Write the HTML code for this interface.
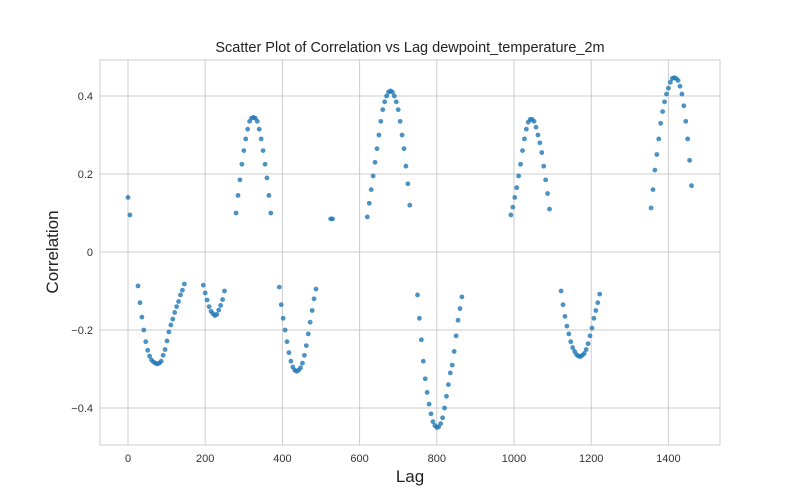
<!DOCTYPE html>
<html><head><meta charset="utf-8"><style>
body{margin:0;background:#fff;}
svg{display:block;font-family:"Liberation Sans","DejaVu Sans",sans-serif;}
</style></head><body>
<svg id="chart" width="800" height="500" viewBox="0 0 800 500">
<rect width="800" height="500" fill="#fff"/>
<text x="410" y="52" text-anchor="middle" font-size="14.5" fill="#222">Scatter Plot of Correlation vs Lag dewpoint_temperature_2m</text>
<g id="grid"></g>
<rect x="100" y="60" width="620" height="385" fill="none" stroke="#ccc" stroke-width="1"/>
<g id="ticks"></g>
<g id="points"></g>
<text x="410" y="482" text-anchor="middle" font-size="17" fill="#222">Lag</text>
<text transform="translate(58,252) rotate(-90)" text-anchor="middle" font-size="17" fill="#222">Correlation</text>
</svg>
<script>
const xTicks=[0,200,400,600,800,1000,1200,1400];
const yTicks=[-0.4,-0.2,0,0.2,0.4];
const yTickLabels=["−0.4","−0.2","0","0.2","0.4"];
const clusterStarts=[0,26,195,280,525,392,620,750,992,1122,1355];
const clusterStep=5;
const v0=[0.14,0.095];
const v1=[-0.087,-0.13,-0.167,-0.2,-0.23,-0.252,-0.267,-0.277,-0.282,-0.285,-0.287,-0.285,-0.28,-0.265,-0.25,-0.228,-0.205,-0.187,-0.172,-0.155,-0.14,-0.127,-0.11,-0.098,-0.082];
const v2=[-0.085,-0.105,-0.123,-0.14,-0.152,-0.158,-0.163,-0.16,-0.149,-0.137,-0.122,-0.1];
const v3=[0.10,0.145,0.185,0.225,0.26,0.29,0.315,0.335,0.343,0.345,0.343,0.335,0.315,0.29,0.26,0.225,0.19,0.145,0.10];
const v4=[0.085,0.085];
const v5=[-0.09,-0.135,-0.17,-0.2,-0.23,-0.258,-0.28,-0.295,-0.303,-0.306,-0.303,-0.297,-0.285,-0.265,-0.24,-0.21,-0.18,-0.15,-0.12,-0.095];
const v6=[0.09,0.125,0.16,0.195,0.23,0.265,0.3,0.335,0.365,0.385,0.4,0.41,0.413,0.41,0.4,0.385,0.365,0.335,0.3,0.265,0.22,0.175,0.12];
const v7=[-0.11,-0.17,-0.225,-0.28,-0.325,-0.36,-0.39,-0.415,-0.435,-0.445,-0.45,-0.448,-0.44,-0.425,-0.4,-0.37,-0.34,-0.31,-0.29,-0.255,-0.215,-0.175,-0.145,-0.115];
const v8=[0.095,0.115,0.14,0.165,0.195,0.225,0.26,0.29,0.315,0.333,0.34,0.34,0.335,0.32,0.3,0.28,0.255,0.22,0.185,0.15,0.11];
const v9=[-0.1,-0.135,-0.165,-0.19,-0.21,-0.23,-0.245,-0.255,-0.263,-0.267,-0.268,-0.265,-0.26,-0.25,-0.235,-0.215,-0.195,-0.17,-0.15,-0.13,-0.108];
const v10=[0.113,0.16,0.21,0.25,0.29,0.33,0.36,0.385,0.405,0.42,0.435,0.445,0.447,0.445,0.44,0.425,0.405,0.375,0.335,0.29,0.235,0.17];
const clusterValues=[v0,v1,v2,v3,v4,v5,v6,v7,v8,v9,v10];

const NS="http://www.w3.org/2000/svg";
function xs(v){return 128+v*0.386;}
function ys(v){return 252-v*390;}
function mk(t,a,p){const e=document.createElementNS(NS,t);for(const k in a)e.setAttribute(k,a[k]);p.appendChild(e);return e;}
const grid=document.getElementById('grid'),ticks=document.getElementById('ticks'),pts=document.getElementById('points');
xTicks.forEach(t=>{
  const l=mk('line',{x1:xs(t),x2:xs(t),y1:60,y2:445,stroke:'#ccc','stroke-width':1},grid);
  
  
  const tx=mk('text',{x:xs(t),y:462,'text-anchor':'middle','font-size':11,fill:'#333'},ticks);
  tx.textContent=t;
  
  
});
yTicks.forEach((t,i)=>{
  const l=mk('line',{x1:100,x2:720,y1:ys(t),y2:ys(t),stroke:'#ccc','stroke-width':1},grid);
  
  
  const tx=mk('text',{x:93,y:ys(t)+4,'text-anchor':'end','font-size':11,fill:'#333'},ticks);
  tx.textContent=yTickLabels[i];
  
  
});
clusterValues.forEach((vals,ci)=>{
  vals.forEach((v,i)=>{
    const lag=clusterStarts[ci]+clusterStep*i;
    const c=mk('circle',{cx:xs(lag),cy:ys(v),r:2.4,fill:'#1f77b4','fill-opacity':0.8},pts);
    
    
  });
});
</script>
</body></html>
